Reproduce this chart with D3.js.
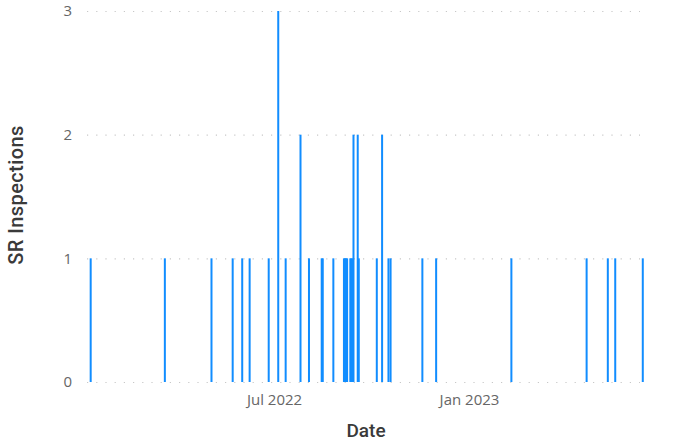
<!DOCTYPE html>
<html>
<head>
<meta charset="utf-8">
<script src="https://cdn.jsdelivr.net/npm/d3@7"></script>
<style>
  html, body { margin: 0; padding: 0; background: #fff; }
  svg { display: block; }
</style>
</head>
<body>
<svg id="chart" width="675" height="443"></svg>
<script>
// ---- data ----
const dates = [
  "2022-01-09","2022-03-20","2022-05-03","2022-05-23","2022-06-01","2022-06-08",
  "2022-06-26","2022-07-05","2022-07-12","2022-07-26","2022-08-03","2022-08-15",
  "2022-08-16","2022-08-26","2022-09-05","2022-09-06","2022-09-07","2022-09-08",
  "2022-09-11","2022-09-12","2022-09-13","2022-09-14","2022-09-18","2022-09-19",
  "2022-10-06","2022-10-11","2022-10-17","2022-10-19","2022-11-18","2022-12-01",
  "2023-02-10","2023-04-22","2023-05-12","2023-05-19","2023-06-14"
];
const inspections = [
  1,1,1,1,1,1,
  1,3,1,2,1,1,
  1,1,1,1,1,1,
  1,1,1,2,2,1,
  1,2,1,1,1,1,
  1,1,1,1,1
];
const xTickDates = ["2022-07-01","2023-01-01"];
const xTickLabels = ["Jul 2022","Jan 2023"];
const yTicks = [0,1,2,3];
const xDomain = ["2022-01-01","2023-07-01"];

// ---- chart ----
const parse = d3.utcParse("%Y-%m-%d");
const data = dates.map((d,i) => ({date: parse(d), value: inspections[i]}));

const svg = d3.select("#chart");
const x = d3.scaleUtc().domain(xDomain.map(parse)).range([82.2, 660.8]);
const y = d3.scaleLinear().domain([0,3]).range([382, 11]);

const gridX0 = 87, gridX1 = 640;

// gridlines
svg.append("g").selectAll("line").data(yTicks).join("line")
  .attr("x1", gridX0).attr("x2", gridX1)
  .attr("y1", d => y(d) + 0.5).attr("y2", d => y(d) + 0.5)
  .attr("stroke", "#c8c8c8")
  .attr("stroke-width", 1.2)
  .attr("stroke-dasharray", "1.2 8")
  .attr("stroke-linecap", "butt");

// y tick labels
svg.append("g").selectAll("text").data(yTicks).join("text")
  .attr("x", 72).attr("y", d => y(d))
  .attr("dy", "0.36em")
  .attr("text-anchor", "end")
  .attr("font-family", "'Open Sans', 'Noto Sans', sans-serif")
  .attr("font-size", 15)
  .attr("fill", "#666")
  .text(d => d3.format("d")(d));

// bars
const bw = 2;
svg.append("g").selectAll("rect").data(data).join("rect")
  .attr("x", d => x(d.date) - bw/2)
  .attr("width", bw)
  .attr("y", d => y(d.value))
  .attr("height", d => y(0) - y(d.value))
  .attr("fill", "#118DFF");

// x axis labels
const xAxis = d3.axisBottom(x)
  .tickValues(xTickDates.map(parse))
  .tickFormat((d,i) => xTickLabels[i])
  .tickSize(0).tickPadding(0);
const gx = svg.append("g").attr("transform", "translate(0,394)").call(xAxis);
gx.select(".domain").remove();
gx.selectAll("text")
  .attr("font-family", "'Open Sans', 'Noto Sans', sans-serif")
  .attr("font-size", 15)
  .attr("fill", "#666")
  .attr("dy", "0.71em");

// axis titles
svg.append("text")
  .attr("x", 366).attr("y", 437)
  .attr("text-anchor", "middle")
  .attr("font-family", "Roboto, 'DejaVu Sans', sans-serif")
  .attr("font-weight", 500)
  .attr("font-size", 19)
  .attr("fill", "#3a3a3a")
  .text("Date");

svg.append("text")
  .attr("transform", "translate(23,195) rotate(-90)")
  .attr("text-anchor", "middle")
  .attr("font-family", "Roboto, 'DejaVu Sans', sans-serif")
  .attr("font-weight", 500)
  .attr("font-size", 20)
  .attr("letter-spacing", "0.4")
  .attr("fill", "#3a3a3a")
  .text("SR Inspections");
</script>
</body>
</html>
